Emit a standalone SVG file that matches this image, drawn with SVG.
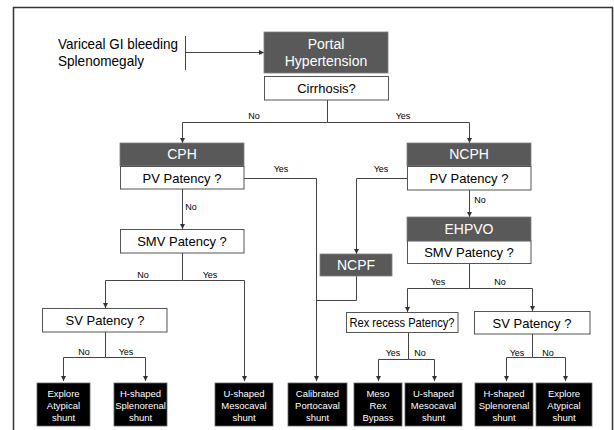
<svg xmlns="http://www.w3.org/2000/svg" width="614" height="430" viewBox="0 0 614 430">
<defs>
<marker id="ah" viewBox="0 0 6 6" refX="6" refY="3" markerWidth="5" markerHeight="5" orient="auto" markerUnits="userSpaceOnUse">
<path d="M0,0 L6,3 L0,6 z" fill="#333"/>
</marker>
<style>
text{font-family:"Liberation Sans",Arial,sans-serif;}
.hdr{fill:#595959;stroke:#7f7f7f;stroke-width:0.8;}
.q{fill:#fff;stroke:#555;stroke-width:1;}
.blk{fill:#000;stroke:#666;stroke-width:0.8;}
.wt{fill:#fff;font-size:14px;text-anchor:middle;}
.qt{fill:#000;font-size:13px;text-anchor:middle;}
.bt{fill:#fff;font-size:9.5px;text-anchor:middle;}
.lbl{fill:#000;font-size:9px;text-anchor:middle;}
.c{fill:none;stroke:#444;stroke-width:1;}
.ca{fill:none;stroke:#444;stroke-width:1;marker-end:url(#ah);}
</style>
</defs>
<rect x="13.5" y="7.5" width="599" height="450" fill="#fff" stroke="#333" stroke-width="1.5"/>

<g id="symptoms">
<text x="58" y="49" font-size="14.5" fill="#000" textLength="120" lengthAdjust="spacingAndGlyphs">Variceal GI bleeding</text>
<text x="58" y="66" font-size="14.5" fill="#000" textLength="86" lengthAdjust="spacingAndGlyphs">Splenomegaly</text>
</g>

<g id="connectors">
<line class="c" x1="185.5" y1="36" x2="185.5" y2="70"/>
<line class="ca" x1="185.5" y1="52.5" x2="264" y2="52.5"/>
<path class="c" d="M327.5,100 V122.5"/>
<path class="ca" d="M327.5,122.5 H182.5 V143"/>
<path class="ca" d="M327.5,122.5 H469.5 V143"/>
<path class="ca" d="M244,178.5 H316.5 V381"/>
<path class="ca" d="M182.5,189 V229"/>
<path class="c" d="M182.5,253 V280.5"/>
<path class="ca" d="M182.5,280.5 H105.5 V308"/>
<path class="ca" d="M182.5,280.5 H244.5 V381"/>
<path class="c" d="M105.5,332 V357.5"/>
<path class="ca" d="M105.5,357.5 H63.5 V381"/>
<path class="ca" d="M105.5,357.5 H145.5 V381"/>
<path class="ca" d="M407,178.5 H356.5 V254"/>
<path class="c" d="M356.5,276 V300.5 H316.5"/>
<path class="ca" d="M469.5,190 V217"/>
<path class="c" d="M469.5,263 V288.5"/>
<path class="ca" d="M469.5,288.5 H407.5 V312"/>
<path class="ca" d="M469.5,288.5 H532.5 V311"/>
<path class="c" d="M408.5,332 V359.5"/>
<path class="ca" d="M408.5,359.5 H378.5 V381"/>
<path class="ca" d="M408.5,359.5 H434.5 V381"/>
<path class="c" d="M532.5,334 V357.5"/>
<path class="ca" d="M532.5,357.5 H506.5 V381"/>
<path class="ca" d="M532.5,357.5 H565.5 V381"/>
<text class="lbl" x="254" y="119">No</text>
<text class="lbl" x="403" y="119">Yes</text>
<text class="lbl" x="281" y="172">Yes</text>
<text class="lbl" x="381" y="172">Yes</text>
<text class="lbl" x="191" y="210">No</text>
<text class="lbl" x="480" y="203">No</text>
<text class="lbl" x="143" y="278">No</text>
<text class="lbl" x="210" y="278">Yes</text>
<text class="lbl" x="438" y="285">Yes</text>
<text class="lbl" x="500" y="285">No</text>
<text class="lbl" x="84" y="355">No</text>
<text class="lbl" x="126" y="355">Yes</text>
<text class="lbl" x="393" y="356">Yes</text>
<text class="lbl" x="420" y="356">No</text>
<text class="lbl" x="517" y="356">Yes</text>
<text class="lbl" x="548" y="356">No</text>
</g>

<g id="portal-hypertension">
<rect class="hdr" x="264" y="32" width="124" height="41"/>
<text class="wt" x="326" y="49">Portal</text>
<text class="wt" x="326" y="66">Hypertension</text>
</g>
<g id="cirrhosis">
<rect class="q" x="264.5" y="76.5" width="124" height="23.5"/>
<text class="qt" x="326.5" y="93">Cirrhosis?</text>
</g>

<g id="cph">
<rect class="hdr" x="120" y="143" width="124" height="23"/>
<text class="wt" x="182" y="159">CPH</text>
</g>
<g id="cph-pv">
<rect class="q" x="120.5" y="166.5" width="123.5" height="22.5"/>
<text class="qt" x="182" y="183">PV Patency ?</text>
</g>
<g id="cph-smv">
<rect class="q" x="120.5" y="229.5" width="123.5" height="23.5"/>
<text class="qt" x="182" y="246">SMV Patency ?</text>
</g>
<g id="cph-sv">
<rect class="q" x="42.5" y="308.5" width="124.5" height="23.5"/>
<text class="qt" x="105" y="325">SV Patency ?</text>
</g>

<g id="ncph">
<rect class="hdr" x="407" y="143" width="124" height="23"/>
<text class="wt" x="469" y="159">NCPH</text>
</g>
<g id="ncph-pv">
<rect class="q" x="407.5" y="166.5" width="123.5" height="23.5"/>
<text class="qt" x="469" y="183">PV Patency ?</text>
</g>
<g id="ncpf">
<rect class="hdr" x="320" y="254" width="72" height="22"/>
<text class="wt" x="356" y="270">NCPF</text>
</g>
<g id="ehpvo">
<rect class="hdr" x="407" y="217" width="124" height="24"/>
<text class="wt" x="469" y="234">EHPVO</text>
</g>
<g id="ehpvo-smv">
<rect class="q" x="407.5" y="241" width="123.5" height="22.5"/>
<text class="qt" x="469" y="257">SMV Patency ?</text>
</g>
<g id="rex">
<rect class="q" x="346.5" y="312.5" width="111.5" height="20"/>
<text class="qt" x="402" y="326.5" font-size="11.5" textLength="105" lengthAdjust="spacingAndGlyphs">Rex recess Patency?</text>
</g>
<g id="ehpvo-sv">
<rect class="q" x="474.5" y="311.5" width="115.5" height="22.5"/>
<text class="qt" x="532" y="327.5">SV Patency ?</text>
</g>

<g id="out1">
<rect class="blk" x="37" y="383" width="53" height="43"/>
<text class="bt" x="63.5" y="397">Explore</text><text class="bt" x="63.5" y="409">Atypical</text><text class="bt" x="63.5" y="421">shunt</text>
</g>
<g id="out2">
<rect class="blk" x="114" y="383" width="53" height="43"/>
<text class="bt" x="140.5" y="397">H-shaped</text><text class="bt" x="140.5" y="409">Splenorenal</text><text class="bt" x="140.5" y="421">shunt</text>
</g>
<g id="out3">
<rect class="blk" x="215" y="383" width="58" height="43"/>
<text class="bt" x="244" y="397">U-shaped</text><text class="bt" x="244" y="409">Mesocaval</text><text class="bt" x="244" y="421">shunt</text>
</g>
<g id="out4">
<rect class="blk" x="288" y="383" width="59" height="43"/>
<text class="bt" x="317.5" y="397">Calibrated</text><text class="bt" x="317.5" y="409">Portocaval</text><text class="bt" x="317.5" y="421">shunt</text>
</g>
<g id="out5">
<rect class="blk" x="354" y="383" width="48" height="43"/>
<text class="bt" x="378" y="397">Meso</text><text class="bt" x="378" y="409">Rex</text><text class="bt" x="378" y="421">Bypass</text>
</g>
<g id="out6">
<rect class="blk" x="405" y="383" width="57" height="43"/>
<text class="bt" x="433.5" y="397">U-shaped</text><text class="bt" x="433.5" y="409">Mesocaval</text><text class="bt" x="433.5" y="421">shunt</text>
</g>
<g id="out7">
<rect class="blk" x="475" y="383" width="58" height="43"/>
<text class="bt" x="504" y="397">H-shaped</text><text class="bt" x="504" y="409">Splenorenal</text><text class="bt" x="504" y="421">shunt</text>
</g>
<g id="out8">
<rect class="blk" x="536" y="383" width="56" height="43"/>
<text class="bt" x="564" y="397">Explore</text><text class="bt" x="564" y="409">Atypical</text><text class="bt" x="564" y="421">shunt</text>
</g>
</svg>
